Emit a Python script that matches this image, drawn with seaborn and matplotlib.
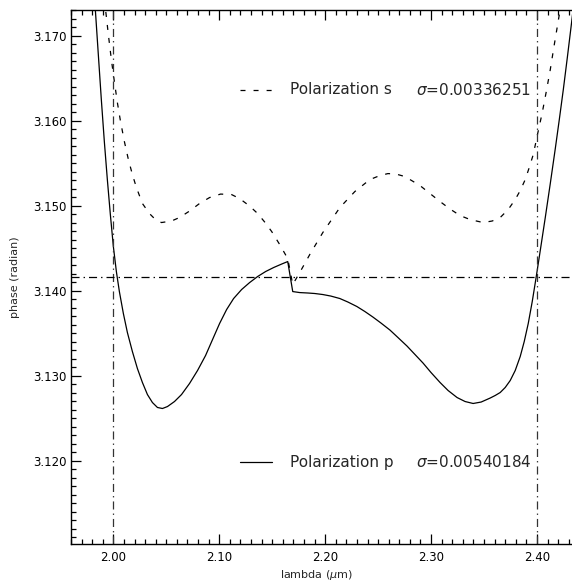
import numpy as np
import pandas as pd
import matplotlib
matplotlib.use("Agg")
import matplotlib.pyplot as plt
import seaborn as sns
from matplotlib.ticker import MultipleLocator, FormatStrFormatter

# ---- data ----
lam_p = [1.98013, 1.98297, 1.98580, 1.98864, 1.99148, 1.99432, 1.99716, 2.00000,
         2.00284, 2.00568, 2.00946, 2.01325, 2.01798, 2.02272, 2.02744, 2.03218,
         2.03691, 2.04164, 2.04637, 2.05110, 2.05773, 2.06435, 2.07192, 2.07949,
         2.08706, 2.09369, 2.10031, 2.10694, 2.11356, 2.12113, 2.12870, 2.13627,
         2.14384, 2.15141, 2.15899, 2.16466,
         2.16939, 2.17602, 2.18359, 2.19021, 2.19778, 2.20536, 2.21387, 2.22144,
         2.22996, 2.23753, 2.24510, 2.25267, 2.26119, 2.26876, 2.27728, 2.28485,
         2.29242, 2.29999, 2.30851, 2.31608, 2.32459, 2.33217, 2.33974, 2.34731,
         2.35582, 2.36056, 2.36529, 2.37002, 2.37475, 2.37948, 2.38421, 2.38800,
         2.39178, 2.39557, 2.39936, 2.40314, 2.40787, 2.41260, 2.41734, 2.42112,
         2.42491, 2.42869, 2.43248, 2.43626]
phase_p = [3.17894, 3.17306, 3.16776, 3.16247, 3.15753, 3.15306, 3.14894, 3.14518,
           3.14224, 3.13988, 3.13729, 3.13506, 3.13282, 3.13082, 3.12918, 3.12776,
           3.12682, 3.12624, 3.12612, 3.12635, 3.12694, 3.12776, 3.12906, 3.13059,
           3.13235, 3.13424, 3.13612, 3.13776, 3.13906, 3.14012, 3.14094, 3.14165,
           3.14224, 3.14271, 3.14312, 3.14341,
           3.13988, 3.13976, 3.13971, 3.13965, 3.13953, 3.13935, 3.13906, 3.13865,
           3.13812, 3.13753, 3.13688, 3.13618, 3.13535, 3.13447, 3.13347, 3.13247,
           3.13147, 3.13035, 3.12918, 3.12824, 3.12741, 3.12694, 3.12671, 3.12688,
           3.12735, 3.12765, 3.12800, 3.12859, 3.12941, 3.13059, 3.13224, 3.13400,
           3.13612, 3.13871, 3.14165, 3.14471, 3.14859, 3.15259, 3.15671, 3.16012,
           3.16365, 3.16741, 3.17129, 3.17529]

lam_s = [1.98959, 1.99243, 1.99527, 1.99811, 2.00095, 2.00379, 2.00662, 2.01041,
         2.01420, 2.01798, 2.02177, 2.02744, 2.03407, 2.03975, 2.04542, 2.05489,
         2.06246, 2.07192, 2.08138, 2.09085, 2.10126, 2.11167, 2.11924, 2.12870,
         2.13627, 2.14290, 2.14952, 2.15709, 2.16466,
         2.16939, 2.17602, 2.18548, 2.19778, 2.21387, 2.22806, 2.24226, 2.25173,
         2.25929, 2.26686, 2.27538, 2.28958, 2.29904, 2.30851, 2.31797, 2.32743,
         2.33690, 2.34920, 2.35772, 2.36529, 2.37286, 2.37948, 2.38421, 2.38895,
         2.39273, 2.39652, 2.40030, 2.40503, 2.40882, 2.41260, 2.41639, 2.42112,
         2.42491]
phase_s = [3.17659, 3.17329, 3.17012, 3.16718, 3.16459, 3.16212, 3.16000, 3.15753,
           3.15541, 3.15365, 3.15212, 3.15024, 3.14906, 3.14835, 3.14800, 3.14818,
           3.14859, 3.14935, 3.15024, 3.15094, 3.15135, 3.15129, 3.15082, 3.14994,
           3.14906, 3.14806, 3.14694, 3.14541, 3.14376,
           3.14071, 3.14212, 3.14424, 3.14682, 3.14976, 3.15165, 3.15306, 3.15353,
           3.15376, 3.15371, 3.15341, 3.15235, 3.15141, 3.15047, 3.14959, 3.14882,
           3.14835, 3.14800, 3.14818, 3.14859, 3.14953, 3.15071, 3.15176, 3.15306,
           3.15447, 3.15600, 3.15824, 3.16094, 3.16341, 3.16600, 3.16894, 3.17247,
           3.17541]

vlines_lam = [2.00, 2.40]
hline_phase = np.pi
label_s = "Polarization s"
label_p = "Polarization p"
sigma_s = "0.00336251"
sigma_p = "0.00540184"

# ---- style ----
sns.set_style("ticks")
plt.rcParams['font.family'] = ['DejaVu Sans']
plt.rcParams['lines.scale_dashes'] = False
plt.rcParams['mathtext.fontset'] = 'dejavusans'

fig = plt.figure(figsize=(5.72, 5.84), dpi=100)
ax = fig.add_axes([71/572, 40/584, (579.3-71)/572, 534/584])

df_p = pd.DataFrame({"lam": lam_p, "phase": phase_p})
df_s = pd.DataFrame({"lam": lam_s, "phase": phase_s})

sns.lineplot(data=df_p, x="lam", y="phase", sort=False, estimator=None,
             color="black", lw=0.9, ax=ax)
sns.lineplot(data=df_s, x="lam", y="phase", sort=False, estimator=None,
             color="black", lw=0.9, ax=ax)
ax.lines[-1].set_dashes((3.6, 5.8))

dashdot = (5.8, 2.9, 1.0, 2.9)
for v in vlines_lam:
    ax.axvline(v, color="#333333", lw=0.9, dashes=dashdot)
ax.axhline(hline_phase, color="black", lw=0.9, dashes=dashdot)

ax.set_xlim(1.96, 2.44)
ax.set_ylim(0.99 * np.pi, 1.01 * np.pi)

ax.xaxis.set_major_locator(MultipleLocator(0.1))
ax.xaxis.set_minor_locator(MultipleLocator(0.01))
ax.yaxis.set_major_locator(MultipleLocator(0.01))
ax.yaxis.set_minor_locator(MultipleLocator(0.001))
ax.xaxis.set_major_formatter(FormatStrFormatter("%.2f"))
ax.yaxis.set_major_formatter(FormatStrFormatter("%.3f"))

ax.tick_params(which="both", direction="in", top=True, right=False,
               color="black", labelsize=8.5, labelcolor="black")
ax.tick_params(which="major", length=7, width=0.9)
ax.tick_params(which="minor", length=3.5, width=0.9)
ax.tick_params(axis="x", which="major", pad=5)
ax.tick_params(axis="y", which="major", pad=3)
for sp in ax.spines.values():
    sp.set_linewidth(1.0)
    sp.set_color("black")

ax.set_xlabel(r"lambda ($\mu$m)", fontsize=8, ha="center", va="center")
ax.xaxis.set_label_coords(0.482, -0.058)
ax.set_ylabel("phase (radian)", fontsize=8, ha="center", va="center")
ax.yaxis.set_label_coords(-0.110, 0.5)

# legend-like annotations (axes fraction coordinates)
def fx(px):
    return (px - 71) / (579.3 - 71)

def fy(py):
    return (544 - py) / 534

ax.plot([fx(240), fx(272)], [fy(90), fy(90)], transform=ax.transAxes,
        color="black", lw=0.9, dashes=(3.6, 5.8))
ax.text(fx(290), fy(90), label_s, transform=ax.transAxes, fontsize=11,
        va="center", ha="left")
ax.text(fx(416), fy(90), r"$\sigma$=" + sigma_s, transform=ax.transAxes,
        fontsize=11, va="center", ha="left")
ax.plot([fx(240), fx(272)], [fy(462), fy(462)], transform=ax.transAxes,
        color="black", lw=0.9)
ax.text(fx(290), fy(462), label_p, transform=ax.transAxes, fontsize=11,
        va="center", ha="left")
ax.text(fx(416), fy(462), r"$\sigma$=" + sigma_p, transform=ax.transAxes,
        fontsize=11, va="center", ha="left")

fig.savefig("out.png", dpi=100)
